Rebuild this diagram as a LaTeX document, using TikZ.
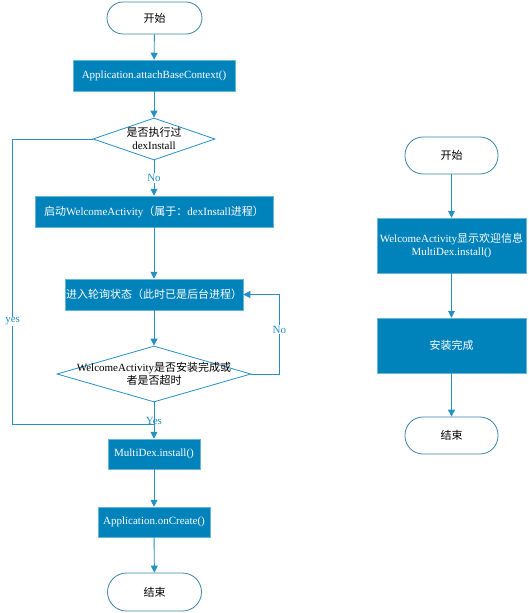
\documentclass[tikz,border=0pt]{standalone}
\usepackage{fontspec}
\setmainfont{Liberation Serif}
\newfontfamily\cjk{Noto Sans CJK SC}
\usetikzlibrary{shapes.geometric, arrows.meta}
\definecolor{boxblue}{HTML}{0082BA}
\definecolor{lineblue}{HTML}{2590C4}
\definecolor{termline}{HTML}{3A83A6}
\tikzset{>={Triangle[width=7pt,length=7pt]}}
\tikzset{
  term/.style={draw=termline, line width=0.8pt, fill=white, rounded corners=16pt, inner sep=0pt},
  proc/.style={fill=boxblue, draw=boxblue!60!white, line width=0.5pt, text=white, inner sep=0pt, align=center},
  decision/.style={diamond, draw=lineblue, line width=0.8pt, fill=white, inner sep=0pt},
  flow/.style={draw=lineblue, line width=0.9pt, ->},
  tag/.style={fill=white, text=lineblue, inner sep=1pt}
}

\begin{document}
\begin{tikzpicture}[x=1pt, y=-1pt, font=\fontsize{11}{13}\selectfont]
\useasboundingbox (0,0) rectangle (529,613);
% left column
\node[term, minimum width=95pt, minimum height=32pt] (s1) at (154.5,18) {\cjk 开始};
\node[proc, minimum width=162pt, minimum height=31pt] (a1) at (154,75.5) {Application.attachBaseContext()};
\node[decision, minimum width=122pt, minimum height=42pt] (d1) at (154,139) {};
\node[align=center] at (154,138) {{\cjk 是否执行过}\\dexInstall};
\node[proc, minimum width=238pt, minimum height=31pt] (w1) at (154,211.5) {{\cjk 启动}WelcomeActivity{\cjk （属于：}dexInstall{\cjk 进程）}};
\node[proc, minimum width=178pt, minimum height=31pt] (p1) at (154,294.5) {\cjk 进入轮询状态（此时已是后台进程）};
\node[decision, minimum width=194pt, minimum height=56pt] (d2) at (154,374) {};
\node[align=center] at (154,374) {WelcomeActivity{\cjk 是否安装完成或}\\{\cjk 者是否超时}};
\node[proc, minimum width=92pt, minimum height=30pt] (m1) at (154,454) {MultiDex.install()};
\node[proc, minimum width=112pt, minimum height=30pt] (c1) at (154,522) {Application.onCreate()};
\node[term, minimum width=94pt, minimum height=38pt, rounded corners=19pt] (e1) at (154.5,592) {\cjk 结束};
\coordinate (j1) at (154,424);
% right column
\node[term, minimum width=93pt, minimum height=37pt, rounded corners=18pt] (s2) at (451.5,155.5) {\cjk 开始};
\node[proc, minimum width=149pt, minimum height=55pt] (r1) at (451.5,245.5) {WelcomeActivity{\cjk 显示欢迎信息}\\MultiDex.install()};
\node[proc, minimum width=149pt, minimum height=55pt] (r2) at (451.5,345.5) {\cjk 安装完成};
\node[term, minimum width=93pt, minimum height=37pt, rounded corners=18pt] (e2) at (451.5,435.5) {\cjk 结束};

\draw[flow] (s1) -- (a1);
\draw[flow] (a1) -- (d1);
\draw[flow] (d1) -- node[tag] {No} (w1);
\draw[flow] (w1) -- (p1);
\draw[flow] (p1) -- (d2);
\draw[flow] (d2.east) -- ++(28,0) |- node[tag, pos=0.28] {No} (p1.east);
\draw[draw=lineblue, line width=0.9pt] (d1.west) -- ++(-80,0) |- node[tag, pos=0.32] {yes} (j1);
\draw[flow] (d2) -- node[tag, pos=0.5, fill=none] {Yes} (m1);
\draw[flow] (m1) -- (c1);
\draw[flow] (c1) -- (e1);
\draw[flow] (s2) -- (r1);
\draw[flow] (r1) -- (r2);
\draw[flow] (r2) -- (e2);
\end{tikzpicture}
\end{document}
